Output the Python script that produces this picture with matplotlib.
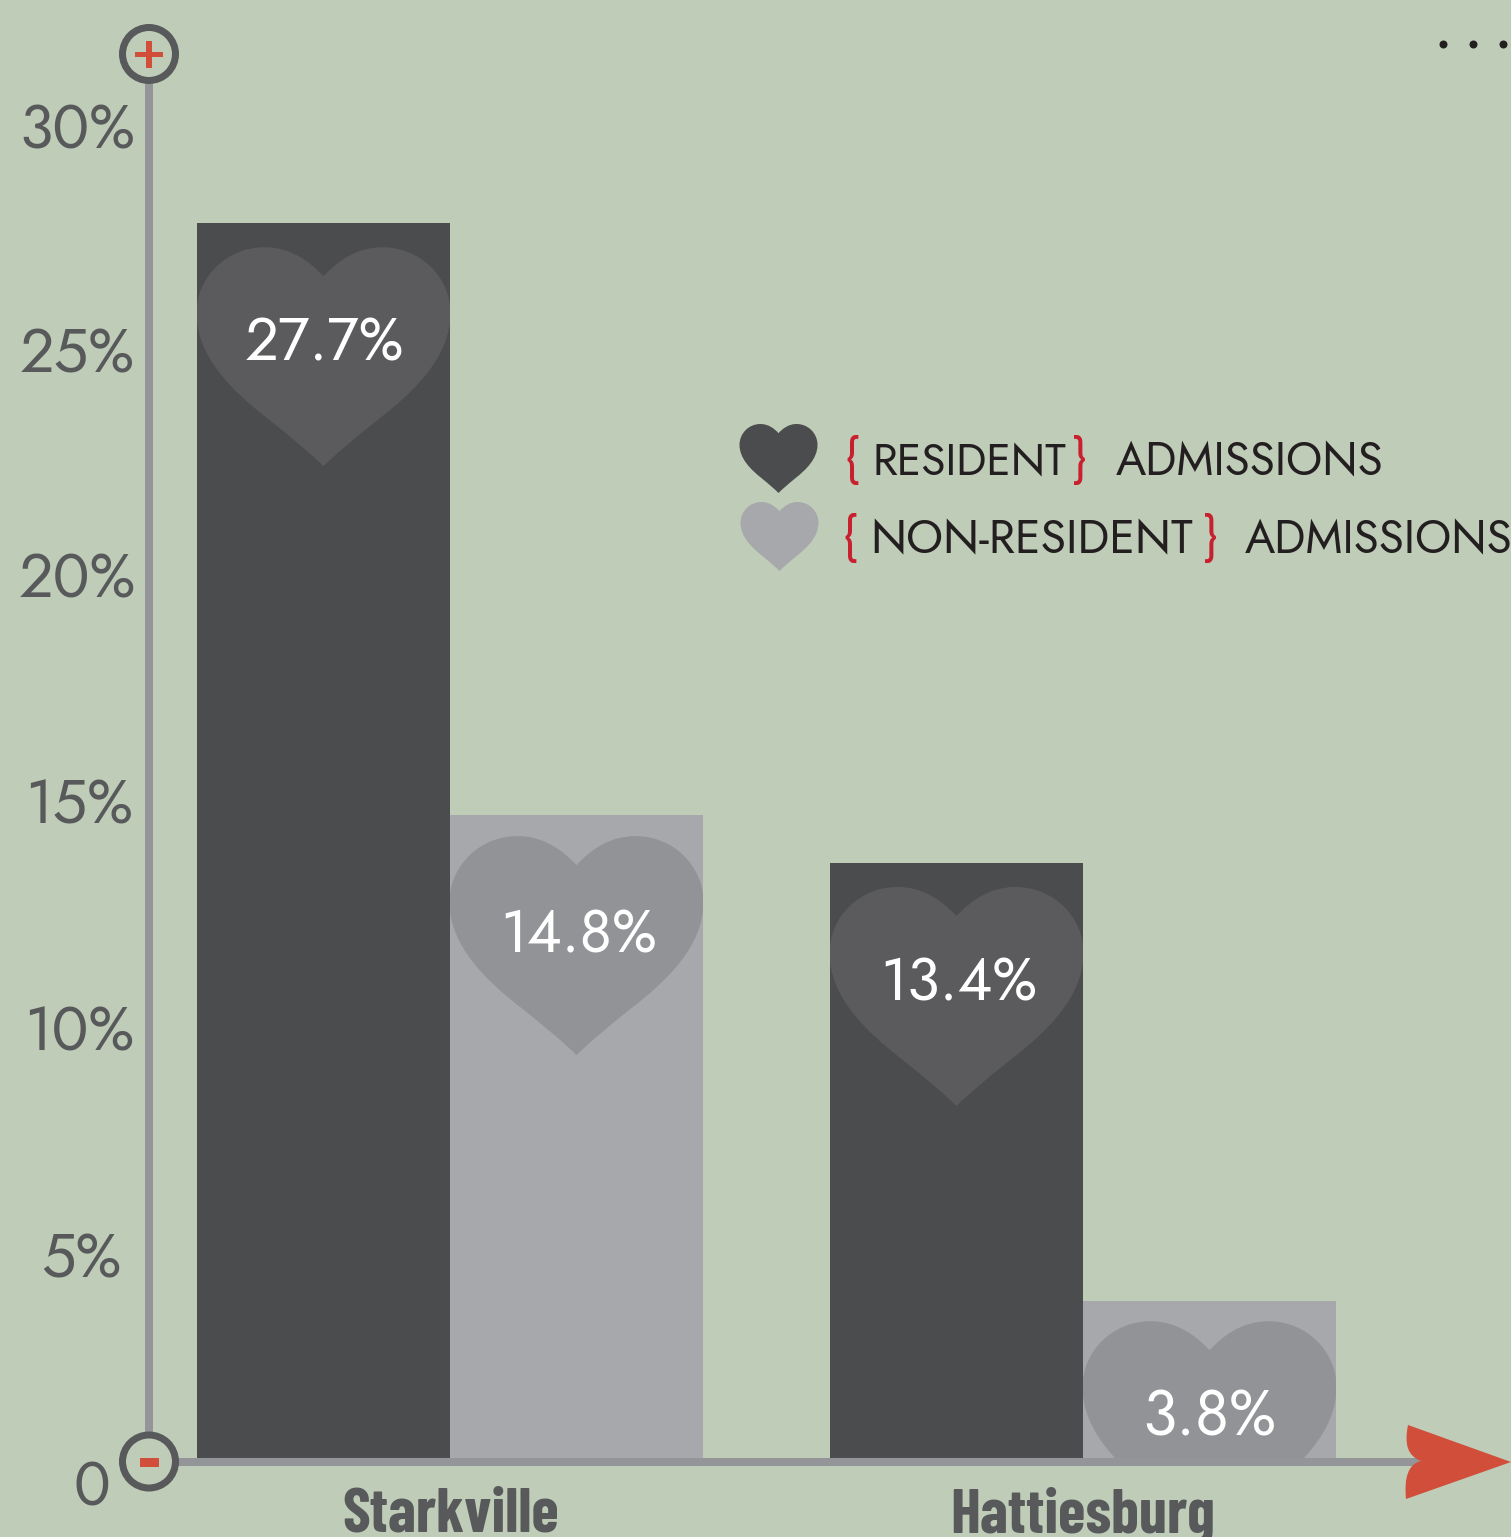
import matplotlib
matplotlib.use('Agg')
import matplotlib.pyplot as plt
from matplotlib.patches import PathPatch, Circle, Rectangle
from matplotlib.path import Path
from matplotlib.transforms import Affine2D, IdentityTransform, blended_transform_factory

# data
cities = ['Starkville', 'Hattiesburg']
resident_heights = [27.33, 13.17]
nonresident_heights = [14.23, 3.47]
resident_labels = ['27.7%', '13.4%']
nonresident_labels = ['14.8%', '3.8%']
tick_values = [0, 5, 10, 15, 20, 25, 30]
tick_labels = ['0', '5%', '10%', '15%', '20%', '25%', '30%']

BG = '#bfccb8'
DARK = '#4b4c4e'
LIGHT = '#a7a8ac'
DARK_HEART = '#5b5b5d'
LIGHT_HEART = '#929396'
AXIS = '#939598'
RING = '#58595b'
RED = '#d14e3a'
BRACE = '#c9202f'
INK = '#231f20'

W, H = 1511, 1537
BASE = 1458
PER_PCT = 45.18
GROUP_STEP = 633.0

plt.rcParams['font.family'] = ['Jost', 'Lato', 'DejaVu Sans']

fig = plt.figure(figsize=(W / 100, H / 100), dpi=100, facecolor=BG)
ax = fig.add_axes([0, 0, 1, 1])
ax.set_xlim(-450 / GROUP_STEP, (W - 450) / GROUP_STEP)
ax.set_ylim(-(H - BASE) / PER_PCT, BASE / PER_PCT)
ax.axis('off')

# pixel coordinates, y going down, for the decorations
px = Affine2D().scale(1, -1).translate(0, H)


def heart(sx, sy, cx, top):
    verts = [(0, 29), (-14, 14), (-33, 0), (-59, 0),
             (-97, 0), (-127, 30), (-127, 66),
             (-127, 110), (-90, 145), (-55, 172),
             (-30, 192), (-12, 207), (0, 219),
             (12, 207), (30, 192), (55, 172),
             (90, 145), (127, 110), (127, 66),
             (127, 30), (97, 0), (59, 0),
             (33, 0), (14, 14), (0, 29), (0, 29)]
    codes = [Path.MOVETO] + [Path.CURVE4] * 24 + [Path.CLOSEPOLY]
    return Path(verts, codes), Affine2D().scale(sx, sy).translate(cx, top) + px


bar_w = 253 / GROUP_STEP
groups = [0, 1]
bars_a = ax.bar([g - bar_w / 2 for g in groups], resident_heights, bar_w, color=DARK, linewidth=0)
bars_b = ax.bar([g + bar_w / 2 for g in groups], nonresident_heights, bar_w, color=LIGHT, linewidth=0)

# heart gap under the bar top, label x shift, baseline under the bar top, font size
label_place = {'27.7%': (24, 1, 137, 43), '14.8%': (21, 2, 137, 43), '13.4%': (24, 2, 138, 43), '3.8%': (20, 0, 134, 45)}
for bars, labels, col in [(bars_a, resident_labels, DARK_HEART), (bars_b, nonresident_labels, LIGHT_HEART)]:
    for b, lab in zip(bars, labels):
        cx, ty = ax.transData.transform((b.get_x() + b.get_width() / 2, b.get_height()))
        ty = H - ty
        gap, dx, dy, size = label_place[lab]
        path, tr = heart(1.0, 1.0, cx, ty + gap)
        p = PathPatch(path, transform=tr, facecolor=col, edgecolor='none', zorder=3)
        ax.add_patch(p)
        p.set_clip_path(b)
        ax.text(cx + dx, ty + dy, lab, transform=px, color='white', fontsize=size,
                ha='center', va='baseline', zorder=4)

# axes lines
ax.plot([149, 149], [84, 1432], transform=px, color=AXIS, lw=8 * .72, solid_capstyle='butt', zorder=2, clip_on=False)
ax.plot([178, 1420], [1462, 1462], transform=px, color=AXIS, lw=8 * .72, solid_capstyle='butt', zorder=5, clip_on=False)

# plus and minus rings
for cy in [54, 1461.5]:
    ax.add_patch(Circle((149, cy), 26.5, transform=px, facecolor='none', edgecolor=RING, lw=7 * .72, zorder=6))
ax.add_patch(Rectangle((135, 51.5), 28, 5.5, transform=px, facecolor=RED, edgecolor='none', zorder=6))
ax.add_patch(Rectangle((146, 41), 6, 27, transform=px, facecolor=RED, edgecolor='none', zorder=6))
ax.add_patch(Rectangle((140, 1458), 19, 9, transform=px, facecolor=RED, edgecolor='none', zorder=6))

# arrow head
arrow = Path([(1511, 1462), (1408, 1425), (1404, 1445), (1408, 1456), (1421, 1461),
              (1408, 1464), (1404, 1478), (1406, 1499), (1511, 1462), (1511, 1462)],
             [Path.MOVETO, Path.LINETO, Path.CURVE4, Path.CURVE4, Path.CURVE4,
              Path.CURVE4, Path.CURVE4, Path.CURVE4, Path.LINETO, Path.CLOSEPOLY])
ax.add_patch(PathPatch(arrow, transform=px, facecolor=RED, edgecolor='none', zorder=6))

# y labels sit below their place on the scale (baseline), spacing is a bit uneven in the original
tick_x = [92, 81, 79, 79, 77, 77, 77]
tick_nudge = [-47, -45, -44, -43, -43, -44, -46]
for x, v, t, n in zip(tick_x, tick_values, tick_labels, tick_nudge):
    tick_tr = blended_transform_factory(IdentityTransform(), ax.transData + Affine2D().translate(0, n))
    ax.text(x, v, t, transform=tick_tr, color=RING, fontsize=44, ha='center', va='baseline', zorder=4)

# city names
for g, name in zip(groups, cities):
    cx = ax.transData.transform((g, 0))[0]
    ax.text(cx + (1 if g == 0 else 0), 1532, name, transform=px, color=RING, fontsize=45, fontweight='bold',
            family=['Barlow Condensed', 'Lato', 'DejaVu Sans'], ha='center', va='baseline', zorder=4)

# legend
path, tr = heart(78 / 254, 69 / 219, 778.5, 424)
ax.add_patch(PathPatch(path, transform=tr, facecolor=DARK, edgecolor='none'))
path, tr = heart(78 / 254, 69 / 219, 779.5, 502)
ax.add_patch(PathPatch(path, transform=tr, facecolor=LIGHT, edgecolor='none'))

legend_rows = [
    (475, [(844, '{', BRACE, 37), (872, 'RESIDENT', INK, 32), (1071, '}', BRACE, 37), (1116, 'ADMISSIONS', INK, 33)]),
    (553, [(842, '{', BRACE, 37), (870, 'NON-RESIDENT', INK, 33.5), (1202, '}', BRACE, 37), (1245, 'ADMISSIONS', INK, 33)]),
]
for y, parts in legend_rows:
    for x, t, col, size in parts:
        ax.text(x, y, t, transform=px, color=col, fontsize=size,
                fontweight='bold' if col == BRACE else 'normal', ha='left', va='baseline', zorder=4)

# the three dots top right
ax.plot([1443, 1473, 1503], [44, 44, 44], 'o', transform=px, color=INK, markersize=8 * .72, markeredgewidth=0, clip_on=False)

fig.savefig('out.png', dpi=100, facecolor=BG)
